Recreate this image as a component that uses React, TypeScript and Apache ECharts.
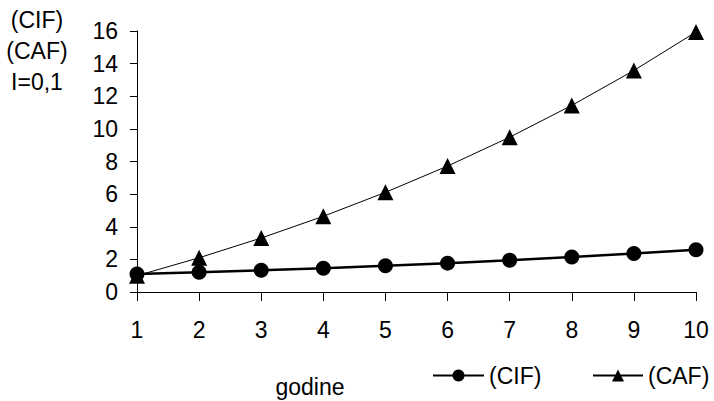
import React, { useEffect, useRef } from "react";
import * as echarts from "echarts";

const years = ["1", "2", "3", "4", "5", "6", "7", "8", "9", "10"];
const cif = [1.1, 1.21, 1.33, 1.46, 1.61, 1.77, 1.95, 2.14, 2.36, 2.59];
const caf = [1.0, 2.1, 3.31, 4.64, 6.11, 7.72, 9.49, 11.44, 13.58, 15.94];
const yTitleLines = ["(CIF)", "(CAF)", "I=0,1"];
const xTitle = "godine";

const FONT = "Liberation Sans, Arial, sans-serif";
const FS = 23;

export default function App() {
  const ref = useRef<HTMLDivElement>(null);
  useEffect(() => {
    const chart = echarts.init(ref.current!, null, { renderer: "svg" });
    const legendCommon = {
      top: 364,
      padding: 0,
      itemWidth: 51,
      itemHeight: 15,
      itemGap: 0,
      textStyle: { color: "#000", fontSize: FS, fontFamily: FONT },
    };
    chart.setOption({
      animation: false,
      backgroundColor: "#fff",
      grid: { left: 137, right: 18, top: 31, bottom: 109, containLabel: false },
      xAxis: {
        type: "category",
        data: years,
        boundaryGap: false,
        axisLine: { show: true, onZero: false, lineStyle: { color: "#000", width: 1 } },
        axisTick: { show: true, inside: false, alignWithLabel: true, length: 9, lineStyle: { color: "#000", width: 1 } },
        axisLabel: { color: "#000", fontSize: FS, fontFamily: FONT, margin: 26, interval: 0 },
        splitLine: { show: false },
      },
      yAxis: {
        type: "value",
        min: 0,
        max: 16,
        interval: 2,
        axisLine: { show: true, lineStyle: { color: "#000", width: 1 } },
        axisTick: { show: true, length: 7, lineStyle: { color: "#000" } },
        axisLabel: { color: "#000", fontSize: FS, fontFamily: FONT, margin: 19 },
        splitLine: { show: false },
      },
      legend: [
        { ...legendCommon, left: 432, data: ["(CIF)"] },
        { ...legendCommon, left: 592, itemWidth: 50, data: ["(CAF)"] },
      ],
      graphic: [
        ...yTitleLines.map((t, i) => ({
          type: "text",
          x: 37,
          y: 20 + i * 31,
          style: {
            text: t,
            fill: "#000",
            font: `${FS}px ${FONT}`,
            textAlign: "center",
            textVerticalAlign: "middle",
          },
        })),
        {
          type: "text",
          x: 310,
          y: 387,
          style: {
            text: xTitle,
            fill: "#000",
            font: `${FS}px ${FONT}`,
            textAlign: "center",
            textVerticalAlign: "middle",
          },
        },
      ],
      series: [
        {
          name: "(CIF)",
          type: "line",
          data: cif,
          symbol: "circle",
          symbolSize: 15,
          itemStyle: { color: "#000" },
          lineStyle: { color: "#000", width: 2.5 },
          z: 3,
        },
        {
          name: "(CAF)",
          type: "line",
          data: caf,
          symbol: "triangle",
          symbolSize: 16,
          itemStyle: { color: "#000" },
          lineStyle: { color: "#000", width: 1 },
          z: 2,
        },
      ],
    });
    return () => chart.dispose();
  }, []);
  return (
    <div
      ref={ref}
      style={{ position: "absolute", left: 0, top: 0, width: 714, height: 401 }}
    />
  );
}
